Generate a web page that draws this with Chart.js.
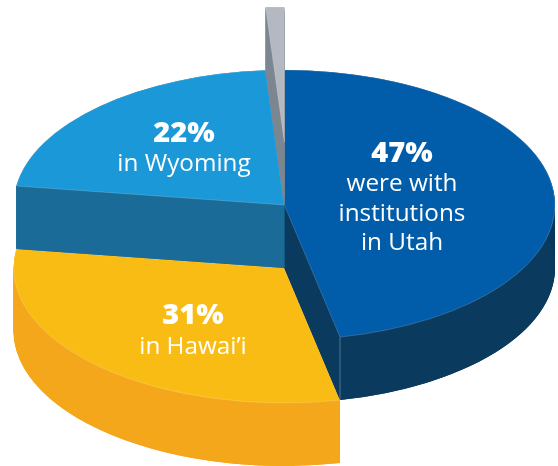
<!DOCTYPE html>
<html>
<head>
<meta charset="utf-8">
<style>html,body{margin:0;padding:0;background:#fff}#w{width:558px;height:466px}</style>
<script src="https://cdn.jsdelivr.net/npm/chart.js@4"></script>
</head>
<body>
<div id="w"><canvas id="c" width="558" height="466"></canvas></div>
<script>
const categories = ["Utah", "Hawai’i", "Wyoming", "Other"];
const shares = [46.7, 30.55, 21.65, 1.1];
const headlines = ["47%", "31%", "22%"];
const captions = [["were with", "institutions", "in Utah"], ["in Hawai’i"], ["in Wyoming"]];

const topColors = ["#015CA9", "#F8BC15", "#1A98D8", "#B4B9C1"];
const wallColors = ["#0A3A5E", "#F5A71C", "#1A6B97", "#7B8690"];
const view = {cx: 284.3, cy: 205, rx: 270.7, ry: 135, depth: 63};
const lifts = [0, 1, 0, -1];
const drawOrder = [1, 0, 2, 3];
const textSpots = [
  {x: 402, y: 162, step: 29.3},
  {x: 193, y: 324, step: 29.5},
  {x: 184, y: 142, step: 29}
];

const pie3d = {
  id: "pie3d",
  beforeDatasetDraw(chart) {
    const ctx = chart.ctx;
    const arcs = chart.getDatasetMeta(0).data;
    const {cx, cy, rx, ry, depth} = view;
    const stamp = (arc, dy) => {
      ctx.save();
      ctx.translate(cx, cy + dy);
      ctx.scale(rx / arc.outerRadius, ry / arc.outerRadius);
      ctx.translate(-arc.x, -arc.y);
      arc.draw(ctx);
      ctx.restore();
    };
    const rim = (a) => [cx + rx * Math.cos(a), ry * Math.sin(a)];
    for (const i of drawOrder) {
      const arc = arcs[i], base = arc.options, top = lifts[i] * depth;
      const y0 = cy + top, y1 = y0 + depth;
      arc.options = Object.assign(Object.create(base), {backgroundColor: wallColors[i], borderWidth: 0});
      for (let d = depth; d > 0; d -= 1) stamp(arc, top + d);
      // flatten the wall with one clean fill
      ctx.fillStyle = wallColors[i];
      const [sx, sy] = rim(arc.startAngle), [ex, ey] = rim(arc.endAngle);
      ctx.beginPath();
      ctx.ellipse(cx, y1, rx, ry, 0, arc.startAngle, arc.endAngle);
      ctx.lineTo(ex, y0 + ey);
      ctx.ellipse(cx, y0, rx, ry, 0, arc.endAngle, arc.startAngle, true);
      ctx.closePath();
      ctx.fill();
      for (const [px, py] of [[sx, sy], [ex, ey]]) {
        ctx.beginPath();
        ctx.moveTo(cx, y0); ctx.lineTo(px, y0 + py); ctx.lineTo(px, y1 + py); ctx.lineTo(cx, y1);
        ctx.closePath();
        ctx.fill();
      }
      if (i === 0) {
        ctx.strokeStyle = "rgba(255,255,255,0.3)";
        ctx.lineWidth = 1;
        ctx.beginPath();
        ctx.moveTo(ex, y0 + ey); ctx.lineTo(ex, y1 + ey);
        ctx.stroke();
      }
      arc.options = base;
      stamp(arc, top);
    }
    return false;
  },
  afterDraw(chart) {
    const ctx = chart.ctx;
    ctx.save();
    ctx.fillStyle = "#fff";
    ctx.textAlign = "center";
    ctx.textBaseline = "alphabetic";
    headlines.forEach((h, i) => {
      const s = textSpots[i];
      ctx.font = `800 29px "Open Sans"`;
      ctx.fillText(h, s.x, s.y);
      ctx.font = `400 24.3px "Open Sans"`;
      captions[i].forEach((t, j) => ctx.fillText(t, s.x, s.y + s.step * (j + 1)));
    });
    ctx.restore();
  }
};

new Chart(document.getElementById("c"), {
  type: "pie",
  data: {
    labels: categories,
    datasets: [{data: shares, backgroundColor: topColors, borderWidth: 0.6, borderColor: "rgba(255,255,255,0.35)"}]
  },
  options: {
    responsive: false,
    animation: false,
    layout: {padding: 0},
    plugins: {legend: {display: false}, tooltip: {enabled: false}}
  },
  plugins: [pie3d]
});
</script>
</body>
</html>
